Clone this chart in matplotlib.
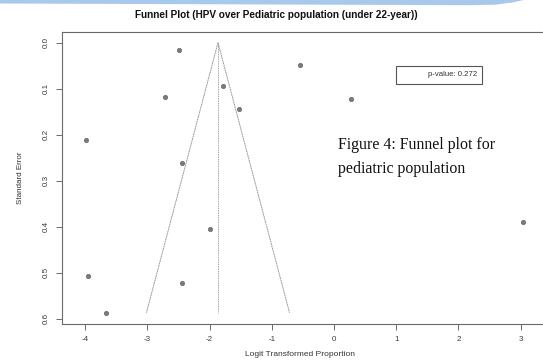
import numpy as np
import matplotlib
matplotlib.use("Agg")
import matplotlib.pyplot as plt
from matplotlib.patches import Rectangle, Polygon

# ---- data ----
logit_prop = [-2.49, -0.54, -1.78, -2.72, 0.27, -1.52, -3.98, -2.45, 3.04, -2.00, -3.96, -2.44, -3.67]
std_err = [0.016, 0.048, 0.094, 0.117, 0.122, 0.144, 0.2115, 0.261, 0.389, 0.404, 0.5065, 0.523, 0.587]
pooled = -1.865
x_ticks = [-4, -3, -2, -1, 0, 1, 2, 3]
y_ticks = [0.0, 0.1, 0.2, 0.3, 0.4, 0.5, 0.6]
title = "Funnel Plot (HPV over Pediatric population (under 22-year))"
p_text = "p-value: 0.272"
caption = ["Figure 4: Funnel plot for", "pediatric population"]

W, H = 543, 360
fig = plt.figure(figsize=(W / 100, H / 100), dpi=100)
plt.rcParams['font.family'] = ['Liberation Sans', 'DejaVu Sans']

def fx(px):
    return px / W

def fy(py):
    return 1 - py / H

# decorative blue band at the top
band = Polygon([[fx(0), fy(0)], [fx(0), fy(3.5)], [fx(470), fy(5.2)], [fx(495), fy(4.7)],
                [fx(512), fy(2.6)], [fx(524), fy(0)]],
               closed=True, transform=fig.transFigure, facecolor='#a8c9ec',
               edgecolor='none', zorder=0)
fig.patches.append(band)

left_px, right_px, top_px, bot_px = 62.3, 555, 31.7, 323.5
ax = fig.add_axes([fx(left_px), fy(bot_px), (right_px - left_px) / W, (bot_px - top_px) / H])

gray = '#7a7a7a'
ax.scatter(logit_prop, std_err, s=10, color=gray, edgecolors='#5e5e5e', linewidths=0.4, zorder=3)

se_max = max(std_err)
se_line = np.array([0.0, se_max])
ax.plot(pooled - 1.96 * se_line, se_line, color='#9a9a9a', lw=0.7, ls=(0, (2, 0.6)))
ax.plot(pooled + 1.96 * se_line, se_line, color='#9a9a9a', lw=0.7, ls=(0, (2, 0.6)))
ax.plot([pooled, pooled], se_line, color='#9a9a9a', lw=0.7, ls=(0, (1, 0.8)))

ax.set_xlim(-4.368, 3.553)
ax.set_ylim(0.6104, -0.0239)
ax.set_xticks(x_ticks)
ax.set_xticklabels([str(t) for t in x_ticks])
ax.set_yticks(y_ticks)
ax.set_yticklabels([f"{t:.1f}" for t in y_ticks], rotation=90, va='center')

for s in ['top', 'left', 'bottom']:
    ax.spines[s].set_color('#6a6a6a')
    ax.spines[s].set_linewidth(0.8)
ax.spines['right'].set_visible(False)
ax.tick_params(axis='both', colors='#6a6a6a', labelcolor='#3a3a3a', labelsize=5.8,
               length=4, width=0.7, pad=5)

fig.text(fx(300), fy(354.5), "Logit Transformed Proportion", ha='center', va='center',
         fontsize=6, color='#333333')
fig.text(fx(20.7), fy(177.5), "Standard Error", ha='center', va='center', rotation=90,
         fontsize=5.8, color='#333333')
fig.text(fx(276.5), fy(15), title, ha='center', va='center', fontsize=7.2,
         fontweight='bold', color='#111111')

# p-value legend box
fig.patches.append(Rectangle((fx(395.7), fy(84)), (482.3 - 395.7) / W, (84 - 65.7) / H,
                             transform=fig.transFigure, facecolor='white',
                             edgecolor='#555555', lw=0.8, zorder=5))
fig.text(fx(477), fy(75), p_text, ha='right', va='center', fontsize=5.6,
         color='#333333', zorder=6)

# caption text
fig.text(fx(338), fy(149.3), caption[0], ha='left', va='baseline', fontsize=11.4,
         family='Liberation Serif', color='#111111')
fig.text(fx(338), fy(173.3), caption[1], ha='left', va='baseline', fontsize=11.4,
         family='Liberation Serif', color='#111111')

fig.savefig("out.png", dpi=100)
